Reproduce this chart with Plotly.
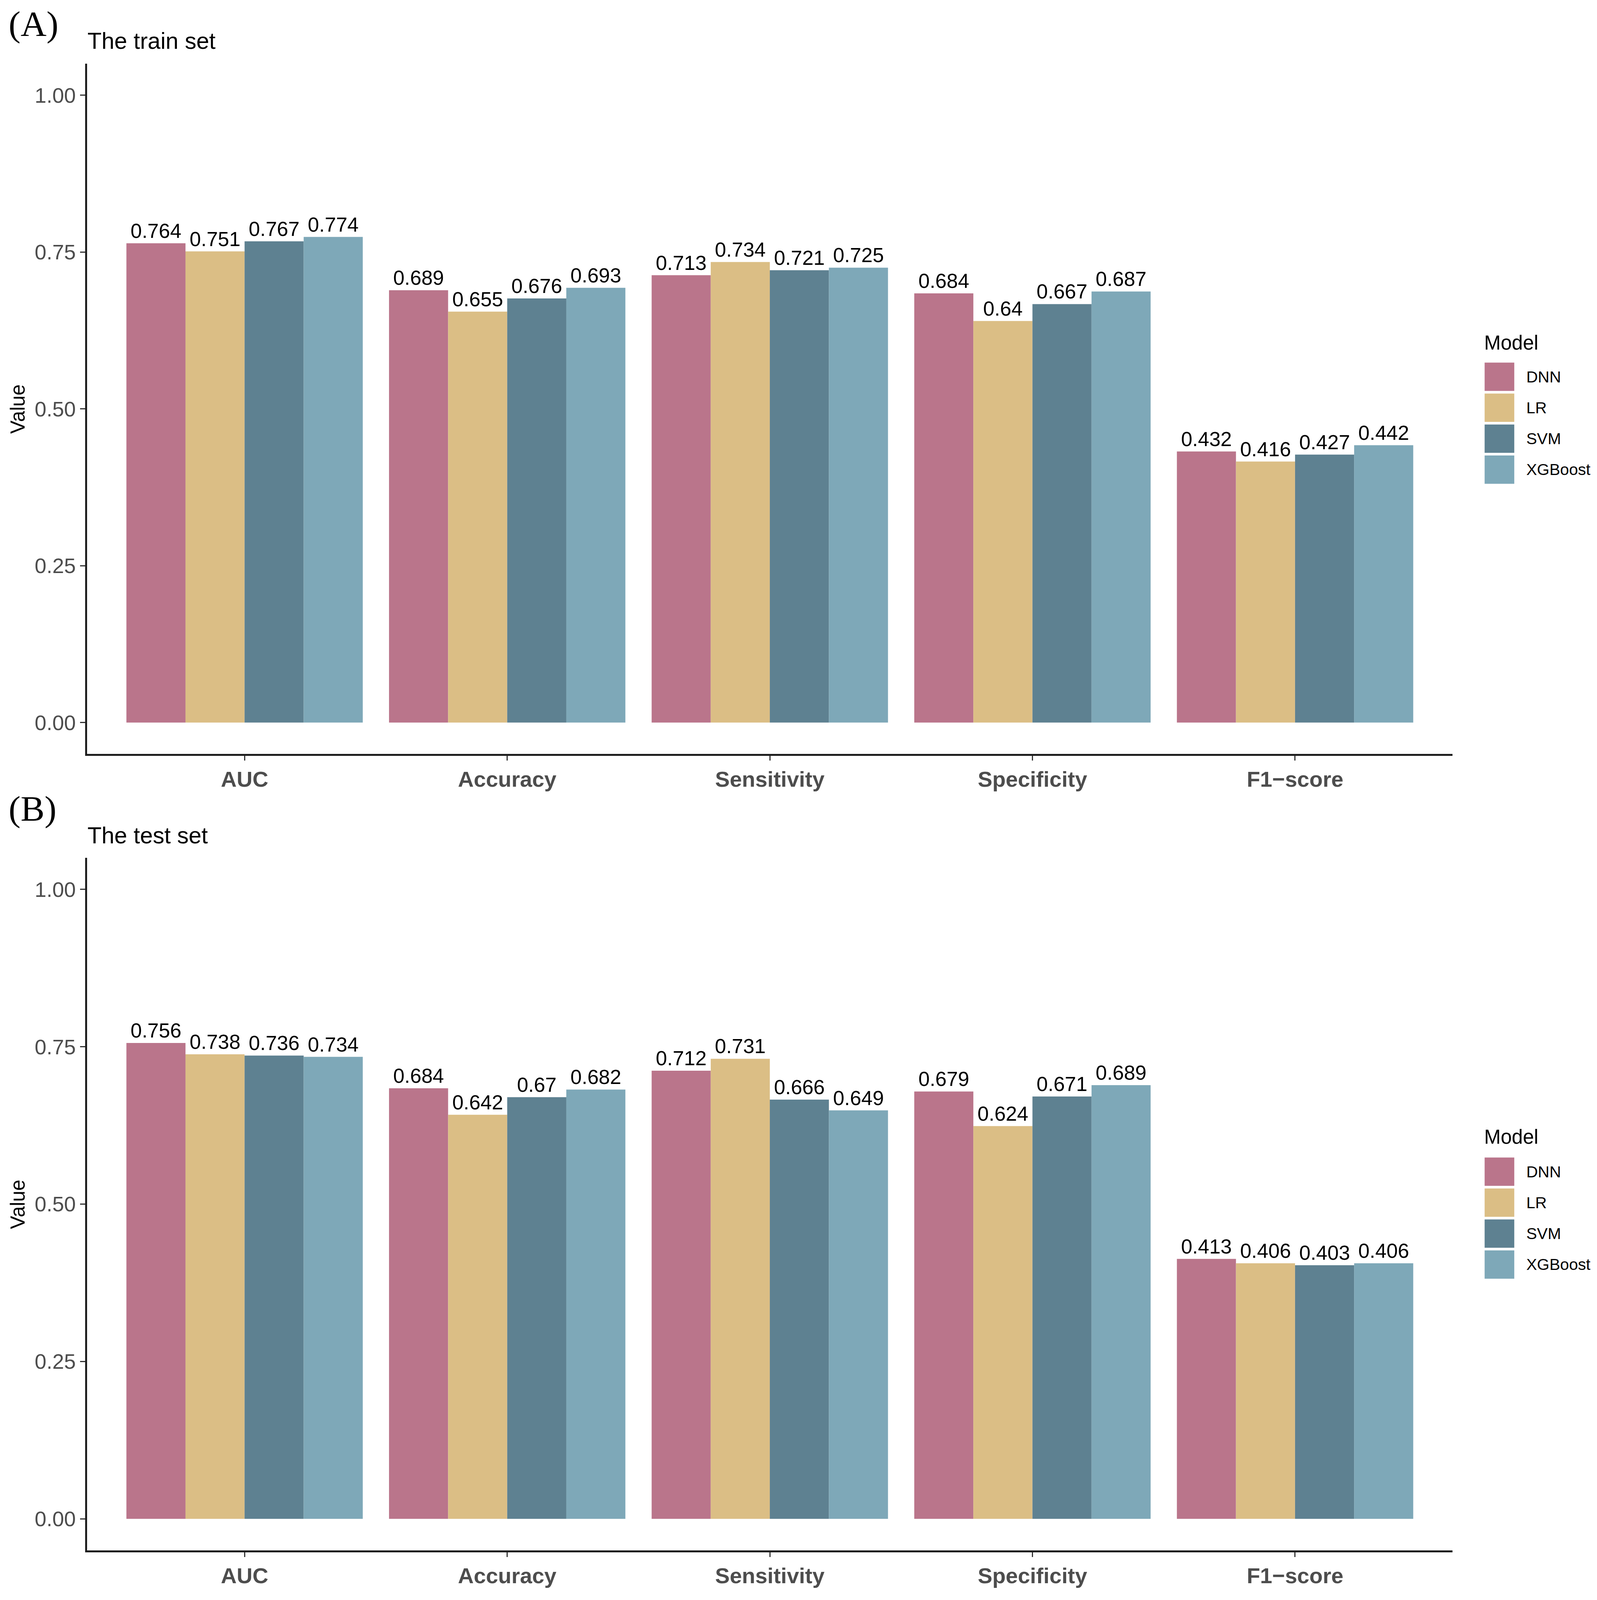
import plotly.graph_objects as go

# ---------------- data ----------------
metrics = ["AUC", "Accuracy", "Sensitivity", "Specificity", "F1\u2212score"]
models = ["DNN", "LR", "SVM", "XGBoost"]
colors = ["#BA758B", "#DBBE85", "#5E8191", "#7EA8B8"]

train_DNN = [0.764, 0.689, 0.713, 0.684, 0.432]
train_LR = [0.751, 0.655, 0.734, 0.64, 0.416]
train_SVM = [0.767, 0.676, 0.721, 0.667, 0.427]
train_XGBoost = [0.774, 0.693, 0.725, 0.687, 0.442]

test_DNN = [0.756, 0.684, 0.712, 0.679, 0.413]
test_LR = [0.738, 0.642, 0.731, 0.624, 0.406]
test_SVM = [0.736, 0.67, 0.666, 0.671, 0.403]
test_XGBoost = [0.734, 0.682, 0.649, 0.689, 0.406]

panel_titles = ["The train set", "The test set"]
panel_tags = ["(A)", "(B)"]
y_ticks = [0, 0.25, 0.5, 0.75, 1.0]
y_ticktext = ["0.00", "0.25", "0.50", "0.75", "1.00"]

train = [train_DNN, train_LR, train_SVM, train_XGBoost]
test = [test_DNN, test_LR, test_SVM, test_XGBoost]

# ---------------- layout helpers ----------------
REF_W, REF_H = 4089, 4262          # reference picture size
W, H = 4085, 4070                  # figure size (fits the visible viewport)
SX, SY = W / REF_W, H / REF_H

def fx(p):
    return (p * SX) / W

def fy(p):
    return 1 - (p * SY) / H

SANS = "Liberation Sans, Arial, Helvetica, sans-serif"
SERIF = "Liberation Serif, Times New Roman, serif"
TICKCOL = "#4D4D4D"
AXCOL = "#1E1E1E"

# panel pixel geometry (reference px): (top, bottom) of plotting area
panels = [(171, 2021), (2300, 4156)]
x_left, x_right = 223, 3723

fig = go.Figure()

for pi, data in enumerate([train, test]):
    xa = "x" if pi == 0 else "x2"
    ya = "y" if pi == 0 else "y2"
    for mi, m in enumerate(models):
        vals = data[mi]
        fig.add_trace(go.Bar(
            x=metrics, y=vals, name=m,
            marker=dict(color=colors[mi], line=dict(width=0)),
            text=[str(v) for v in vals],
            textposition="outside",
            textfont=dict(family=SANS, size=52, color="#000000"),
            constraintext="none",
            cliponaxis=False,
            showlegend=False,
            xaxis=xa, yaxis=ya,
        ))

def xaxis_cfg(anchor):
    return dict(
        domain=[fx(x_left), fx(x_right)],
        anchor=anchor,
        type="category",
        categoryorder="array", categoryarray=metrics,
        range=[-0.6, 4.6],
        showline=True, linewidth=5, linecolor=AXCOL,
        ticks="outside", ticklen=12, tickwidth=3, tickcolor="#333333",
        tickfont=dict(family=SANS, size=56, color=TICKCOL, weight="bold"),
        showgrid=False, zeroline=False,
        fixedrange=True,
    )

def yaxis_cfg(anchor, top, bottom):
    return dict(
        domain=[fy(bottom), fy(top)],
        anchor=anchor,
        range=[-0.05, 1.05],
        tickvals=y_ticks, ticktext=y_ticktext,
        showline=True, linewidth=5, linecolor=AXCOL,
        ticks="outside", ticklen=13, tickwidth=3, tickcolor="#333333",
        tickfont=dict(family=SANS, size=54, color=TICKCOL),
        showgrid=False, zeroline=False,
        fixedrange=True,
    )

annotations = []
shapes = []

title_mid = [110, 2240]
tag_mid = [64, 2168]
legend_title_mid = [919, 3048]
legend_first_key_top = [972, 3103]
key_size = 76
key_pitch = 83
key_x0 = 3805
label_x = 3910

for pi in range(2):
    top, bottom = panels[pi]
    # panel tag
    annotations.append(dict(
        text=panel_tags[pi], x=fx(20), y=fy(tag_mid[pi]), xref="paper", yref="paper",
        xanchor="left", yanchor="middle", showarrow=False,
        font=dict(family=SERIF, size=92, color="#000000")))
    # panel title
    annotations.append(dict(
        text=panel_titles[pi], x=fx(222), y=fy(title_mid[pi]), xref="paper", yref="paper",
        xanchor="left", yanchor="middle", showarrow=False,
        font=dict(family=SANS, size=59, color="#000000")))
    # y axis title
    annotations.append(dict(
        text="Value", x=fx(46), y=fy((top + bottom) / 2), xref="paper", yref="paper",
        xanchor="center", yanchor="middle", showarrow=False, textangle=-90,
        font=dict(family=SANS, size=51, color="#000000")))
    # legend title
    annotations.append(dict(
        text="Model", x=fx(key_x0 - 3), y=fy(legend_title_mid[pi]), xref="paper", yref="paper",
        xanchor="left", yanchor="middle", showarrow=False,
        font=dict(family=SANS, size=51, color="#000000")))
    # legend keys
    for mi, m in enumerate(models):
        k_top = legend_first_key_top[pi] + mi * key_pitch
        shapes.append(dict(
            type="rect", xref="paper", yref="paper",
            x0=fx(key_x0), x1=fx(key_x0 + key_size),
            y0=fy(k_top + key_size), y1=fy(k_top),
            fillcolor=colors[mi], line=dict(width=0)))
        annotations.append(dict(
            text=m, x=fx(label_x), y=fy(k_top + key_size / 2), xref="paper", yref="paper",
            xanchor="left", yanchor="middle", showarrow=False,
            font=dict(family=SANS, size=41, color="#000000")))

fig.update_layout(
    width=W, height=H,
    margin=dict(l=0, r=0, t=0, b=0),
    paper_bgcolor="white", plot_bgcolor="white",
    barmode="group", bargap=0.1, bargroupgap=0,
    showlegend=False,
    xaxis=xaxis_cfg("y"),
    yaxis=yaxis_cfg("x", *panels[0]),
    xaxis2=xaxis_cfg("y2"),
    yaxis2=yaxis_cfg("x2", *panels[1]),
    annotations=annotations,
    shapes=shapes,
    font=dict(family=SANS),
)

fig.write_html(
    "out.html",
    config={"displayModeBar": False, "staticPlot": True},
    post_script="document.body.style.margin='0px';document.body.style.overflow='hidden';",
)
